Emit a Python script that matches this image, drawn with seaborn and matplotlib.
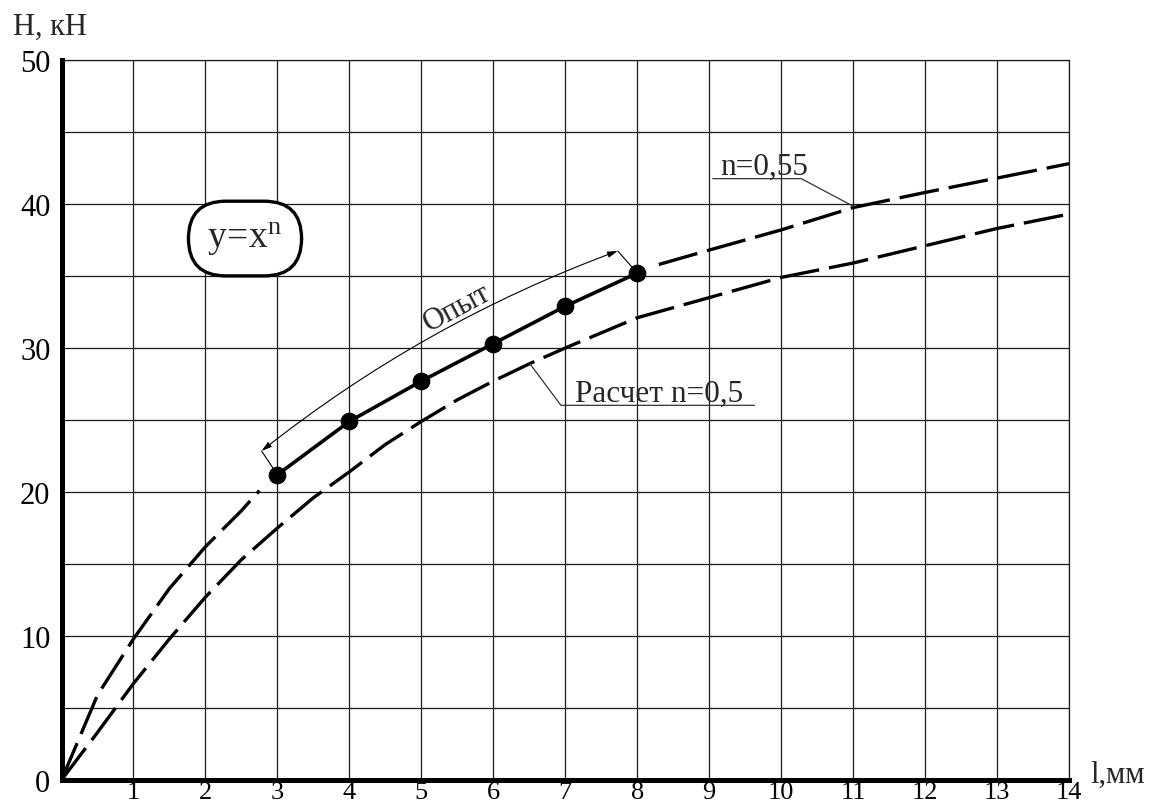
import matplotlib
matplotlib.use("Agg")
import matplotlib.pyplot as plt
import seaborn as sns

# experimental points
exp_x = [3, 4, 5, 6, 7, 8]
exp_y = [21.2, 24.9, 27.7, 30.3, 32.9, 35.2]

# curve n=0,55 (dashed part before and after the experiment)
fit_left_x = [0, 0.5, 1, 1.5, 2, 2.5, 2.75]
fit_left_y = [0, 5.9, 9.8, 13.3, 16.2, 18.7, 20.1]
fit_right_x = [8.3, 9, 10, 11, 12, 13, 14]
fit_right_y = [35.8, 36.8, 38.2, 39.75, 40.8, 41.8, 42.8]

# calculation n=0,5
calc_x = [0, 0.5, 1, 1.5, 2, 2.5, 3, 3.5, 4, 4.5, 5, 5.5, 6, 6.5, 7, 8, 9, 10, 11, 12, 13, 14]
calc_y = [0, 3.3, 6.7, 9.8, 12.7, 15.3, 17.5, 19.6, 21.4, 23.3, 24.9, 26.4, 27.7, 28.9, 30.0,
          32.1, 33.5, 34.9, 35.9, 37.1, 38.3, 39.3]

x_ticks = list(range(0, 15))
y_ticks = list(range(0, 51, 5))
x_labels = [""] + [str(v) for v in range(1, 15)]
y_labels = [str(v) if v % 10 == 0 else "" for v in y_ticks]

sns.set_theme(style="white")
plt.rcParams["font.family"] = ["Liberation Serif", "DejaVu Serif"]
plt.rcParams["mathtext.fontset"] = "custom"
plt.rcParams["mathtext.rm"] = "Liberation Serif"
plt.rcParams["mathtext.it"] = "Liberation Serif"

fig = plt.figure(figsize=(11.52, 8.12), dpi=100)
ax = fig.add_axes([61.5 / 1152, 31 / 812, 1007.5 / 1152, 720 / 812])

dash = (0, (12, 3))
sns.lineplot(x=fit_left_x, y=fit_left_y, ax=ax, color="black", lw=2.4, linestyle=dash)
sns.lineplot(x=fit_right_x, y=fit_right_y, ax=ax, color="black", lw=2.4, linestyle=dash)
sns.lineplot(x=calc_x, y=calc_y, ax=ax, color="black", lw=2.4, linestyle=dash)
sns.lineplot(x=exp_x, y=exp_y, ax=ax, color="black", lw=2.6, marker="o",
             markersize=12, markeredgecolor="black", zorder=5)

ax.set_xlim(0, 14)
ax.set_ylim(0, 50)
ax.set_xticks(x_ticks)
ax.set_yticks(y_ticks)
ax.set_xticklabels(x_labels)
ax.set_yticklabels(y_labels)
ax.tick_params(length=0, labelsize=22, colors="black")
ax.tick_params(axis="y", pad=8)
ax.tick_params(axis="x", pad=1, labelsize=19)
ax.grid(True, color="#1a1a1a", lw=0.9)
ax.set_xlabel("")
ax.set_ylabel("")

for side in ["left", "bottom"]:
    ax.spines[side].set_linewidth(3.6)
    ax.spines[side].set_color("black")
for side in ["top", "right"]:
    ax.spines[side].set_linewidth(0.9)
    ax.spines[side].set_color("#1a1a1a")

# formula in a blob
ax.text(2.55, 37.6, r"$\mathrm{y\!=\!x^n}$", fontsize=27, ha="center", va="center",
        bbox=dict(boxstyle="round,pad=0.5,rounding_size=1.0", fc="white", ec="black", lw=2.4),
        zorder=6)

# "Опыт" arrow
ax.annotate("", xy=(7.73, 36.74), xytext=(2.78, 22.85),
            arrowprops=dict(arrowstyle="<|-|>,head_length=0.5,head_width=0.15", lw=0.8,
                            color="black", connectionstyle="arc3,rad=-0.08",
                            shrinkA=0, shrinkB=0))
ax.plot([2.78, 3.0], [22.85, 21.2], color="black", lw=0.8)
ax.plot([7.73, 8.0], [36.74, 35.2], color="black", lw=0.8)
ax.text(5.5, 32.8, "Опыт", fontsize=22, rotation=28, ha="center", va="center")

# n=0,55 label
ax.plot([9.05, 10.28, 11.0], [41.76, 41.76, 39.85], color="#333333", lw=0.9)
ax.text(9.15, 42.1, "n=0,55", fontsize=22.5, ha="left", va="baseline")

# Расчет label
ax.plot([6.51, 6.94, 9.63], [28.9, 26.02, 26.02], color="#333333", lw=0.9)
ax.text(7.13, 26.3, "Расчет n=0,5", fontsize=22.5, ha="left", va="baseline")

fig.text(13 / 1152, 1 - 35 / 812, "Н, кН", fontsize=22, ha="left", va="baseline")
fig.text(1090 / 1152, 1 - 783 / 812, "l,мм", fontsize=22, ha="left", va="baseline")

fig.savefig("out.png", dpi=100)
